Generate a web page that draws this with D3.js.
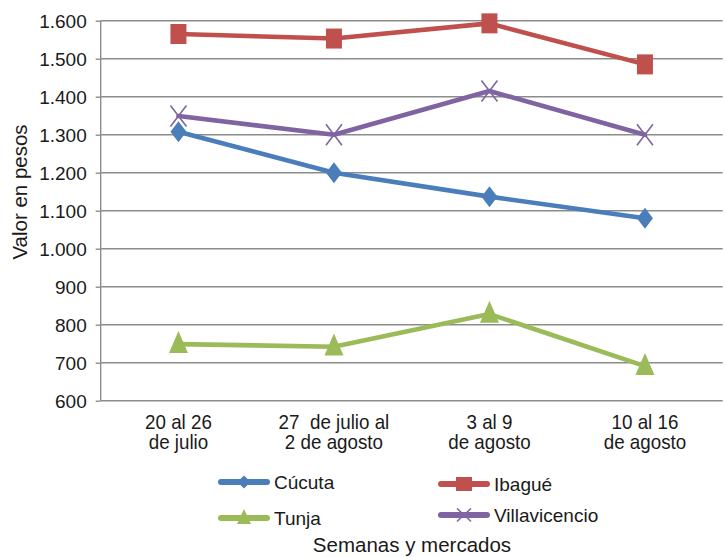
<!DOCTYPE html>
<html>
<head>
<meta charset="utf-8">
<script src="https://cdn.jsdelivr.net/npm/d3@7"></script>
<style>
  html, body { margin: 0; padding: 0; background: #fff; }
  svg { display: block; font-family: "Liberation Sans", Arial, sans-serif; }
  text { white-space: pre; }
</style>
</head>
<body>
<svg id="chart" width="726" height="557"></svg>
<script>
// ---- data ----
const categories = [
  ["20 al 26", "de julio"],
  ["27  de julio al", "2 de agosto"],
  ["3 al 9", "de agosto"],
  ["10 al 16", "de agosto"]
];
const seriesNames = ["Cúcuta", "Ibagué", "Tunja", "Villavicencio"];
const cucuta = [1308, 1200, 1137, 1080];
const ibague = [1565, 1553, 1593, 1485];
const tunja = [749, 742, 828, 691];
const villavicencio = [1349, 1300, 1415, 1300];
const yTicks = [600, 700, 800, 900, 1000, 1100, 1200, 1300, 1400, 1500, 1600];
const yTickLabels = ["600", "700", "800", "900", "1.000", "1.100", "1.200", "1.300", "1.400", "1.500", "1.600"];
const yTitle = "Valor en pesos";
const xTitle = "Semanas y mercados";

// ---- styles ----
const colors = { "Cúcuta": "#4a7ebb", "Ibagué": "#c0504d", "Tunja": "#9bbb59", "Villavicencio": "#8064a2" };
const markers = { "Cúcuta": "diamond", "Ibagué": "square", "Tunja": "triangle", "Villavicencio": "x" };
const seriesValues = { "Cúcuta": cucuta, "Ibagué": ibague, "Tunja": tunja, "Villavicencio": villavicencio };

const svg = d3.select("#chart");
const pLeft = 100.7, pRight = 722.7, pTop = 20.7, pBottom = 400.7;

const catKeys = categories.map(c => c.join(" "));
const x = d3.scalePoint().domain(catKeys).range([pLeft, pRight]).padding(0.5);
const y = d3.scaleLinear().domain([600, 1600]).range([pBottom, pTop]);

const gridColor = "#8c8c8c";

// gridlines
svg.append("g").selectAll("line").data(yTicks.filter(v => v > 600)).join("line")
  .attr("x1", pLeft).attr("x2", pRight)
  .attr("y1", d => y(d)).attr("y2", d => y(d))
  .attr("stroke", gridColor).attr("stroke-width", 1.4);

// y axis
const yAxis = d3.axisLeft(y).tickValues(yTicks).tickSize(5).tickPadding(9)
  .tickFormat((d, i) => yTickLabels[i]);
const gy = svg.append("g").attr("transform", `translate(${pLeft},0)`).call(yAxis);
gy.select(".domain").attr("stroke", gridColor).attr("stroke-width", 1.4).attr("d", `M0,${pTop}V${pBottom}`);
gy.selectAll(".tick line").attr("stroke", gridColor).attr("stroke-width", 1.4);
gy.selectAll(".tick text").attr("font-size", 19).attr("font-family", "Liberation Sans, Arial, sans-serif")
  .attr("fill", "#1a1a1a").attr("dy", "0.35em");

// x axis (baseline line, no ticks)
const xAxis = d3.axisBottom(x).tickSize(0).tickFormat("");
const gx = svg.append("g").attr("transform", `translate(0,${pBottom})`).call(xAxis);
gx.select(".domain").attr("stroke", gridColor).attr("stroke-width", 1.4).attr("d", `M${pLeft},0H${pRight}`);

// x labels (two lines per category, one text element each)
svg.append("g").selectAll("text").data(categories).join("text")
  .attr("transform", (d, i) => `translate(${x(catKeys[i])},428.5) scale(1,1.12)`)
  .attr("text-anchor", "middle").attr("font-size", 18.8).attr("fill", "#1a1a1a")
  .each(function(d) {
    const t = d3.select(this);
    d.forEach((ln, j) => {
      t.append("tspan").attr("x", 0).attr("dy", j === 0 ? 0 : 18.7).text(ln);
    });
  });

// marker generator
function drawMarker(g, type, cx, cy, w, h, color) {
  if (type === "diamond") {
    g.append("path").attr("d", `M${cx},${cy - h/2}L${cx + w/2},${cy}L${cx},${cy + h/2}L${cx - w/2},${cy}Z`).attr("fill", color);
  } else if (type === "square") {
    g.append("rect").attr("x", cx - w/2).attr("y", cy - h/2).attr("width", w).attr("height", h).attr("fill", color);
  } else if (type === "triangle") {
    g.append("path").attr("d", `M${cx},${cy - h*0.6}L${cx + w/2},${cy + h*0.4}L${cx - w/2},${cy + h*0.4}Z`).attr("fill", color);
  } else if (type === "x") {
    g.append("path").attr("d", `M${cx - w/2},${cy - h/2}L${cx + w/2},${cy + h/2}M${cx - w/2},${cy + h/2}L${cx + w/2},${cy - h/2}`)
      .attr("stroke", color).attr("stroke-width", 1.6).attr("fill", "none");
  }
}

const markerSize = { diamond: [16, 21], square: [16, 20], triangle: [19, 22], x: [16, 21] };
const line = d3.line().x((d, i) => x(catKeys[i])).y(d => y(d));

seriesNames.forEach(name => {
  const vals = seriesValues[name];
  const g = svg.append("g");
  g.append("path").datum(vals).attr("d", line).attr("fill", "none")
    .attr("stroke", colors[name]).attr("stroke-width", 4.6).attr("stroke-linejoin", "round").attr("stroke-linecap", "round");
  vals.forEach((v, i) => {
    const [w, h] = markerSize[markers[name]];
    drawMarker(g, markers[name], x(catKeys[i]), y(v), w, h, colors[name]);
  });
});

// legend
const legendPos = [
  { x: 221, y: 482, tx: 274, ty: 489 },
  { x: 441, y: 484, tx: 494, ty: 491 },
  { x: 221, y: 518, tx: 274, ty: 525 },
  { x: 441, y: 515, tx: 494, ty: 522 }
];
const legendMarkerSize = { diamond: [13, 13], square: [16, 14], triangle: [14, 15], x: [14, 13] };
const lg = svg.append("g");
seriesNames.forEach((name, i) => {
  const p = legendPos[i];
  lg.append("line").attr("x1", p.x).attr("x2", p.x + 46).attr("y1", p.y).attr("y2", p.y)
    .attr("stroke", colors[name]).attr("stroke-width", 6).attr("stroke-linecap", "round");
  const [w, h] = legendMarkerSize[markers[name]];
  drawMarker(lg, markers[name], p.x + 23, p.y, w, h, colors[name]);
  lg.append("text").attr("x", p.tx).attr("y", p.ty).attr("font-size", 19).attr("fill", "#1a1a1a").text(name);
});

// axis titles
svg.append("text").attr("transform", "translate(27,192) rotate(-90)").attr("text-anchor", "middle")
  .attr("font-size", 20.5).attr("fill", "#1a1a1a").text(yTitle);
svg.append("text").attr("x", 412).attr("y", 552).attr("text-anchor", "middle")
  .attr("font-size", 20.5).attr("fill", "#1a1a1a").text(xTitle);
</script>
</body>
</html>
